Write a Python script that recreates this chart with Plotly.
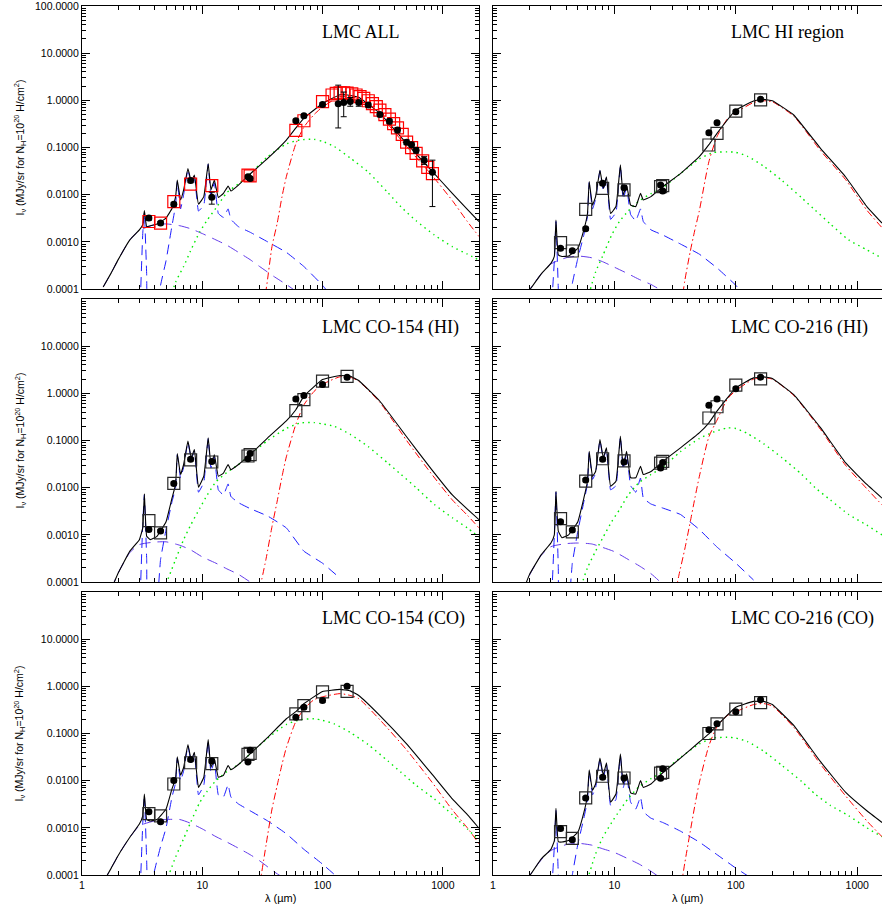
import plotly.graph_objects as go
from plotly.subplots import make_subplots

# ---------------- wavelength grids (micron) ----------------
lam_tot = [1.5, 1.75, 2.0, 2.5, 3.0, 3.2, 3.3, 3.45, 3.7, 4.2, 5.0, 5.6, 6.0, 6.2, 6.6, 7.0, 7.6, 8.1, 8.6,
           9.3, 10.3, 11.2, 11.8, 12.6, 13.6, 15.0, 16.4, 17.3, 20, 25, 35, 50, 60, 70, 100, 140, 170, 200,
           300, 500, 800, 1200, 1600, 2000]
lam_red = [30, 34, 38, 42, 46, 50, 60, 70, 85, 100, 140, 170, 200, 300, 500, 800, 1200, 1600, 2000]
lam_grn = [5, 6, 7, 8, 9.5, 11, 13, 16, 20, 25, 35, 50, 65, 85, 100, 125, 170, 240, 350, 450, 600, 850,
           1200, 1600, 2000]
lam_star = [1.5, 1.75, 2.0, 2.5, 3.0, 4.0, 5.0, 6.5, 8, 10, 13, 16, 20, 25, 30, 40, 50, 60]
lam_pah = [3.05, 3.2, 3.3, 3.45, 3.55, 4.0, 4.5, 5.0, 5.6, 6.0, 6.2, 6.6, 7.0, 7.6, 8.1, 8.6, 9.3, 10.3,
           11.2, 11.8, 12.6, 13.6, 15.0, 16.4, 17.3, 20, 25, 35, 50, 70, 100, 140]
lam_obs = [3.6, 4.5, 5.8, 8.0, 12, 24, 25, 60, 70, 100, 160]

# ---------------- LMC ALL ----------------
tot_all = [1.1e-4, 2.2e-4, 4.2e-4, 1.1e-3, 1.8e-3, 2.3e-3, 4.6e-3, 2.1e-3, 2.2e-3, 2.4e-3, 3.2e-3, 5.1e-3,
           9e-3, 0.0205, 7.7e-3, 0.0126, 0.036, 0.019, 0.026, 6.3e-3, 9.1e-3, 0.046, 0.0126, 0.0205, 8.7e-3,
           0.0107, 0.0152, 0.012, 0.016, 0.0275, 0.059, 0.144, 0.26, 0.42, 0.86, 1.32, 1.27, 1.16, 0.53,
           0.122, 0.033, 0.0107, 4.9e-3, 2.7e-3]
red_all = [2e-5, 1e-4, 8e-4, 2.5e-3, 9e-3, 0.024, 0.12, 0.27, 0.5, 0.72, 1.2, 1.2, 1.07, 0.48, 0.105,
           0.027, 7.5e-3, 2.7e-3, 1.3e-3]
grn_all = [3e-5, 1.4e-4, 3e-4, 6.5e-4, 1.6e-3, 2.9e-3, 5.2e-3, 0.011, 0.017, 0.0275, 0.064, 0.119, 0.145,
           0.149, 0.135, 0.105, 0.06, 0.03, 0.011, 5.5e-3, 2.8e-3, 1.4e-3, 7.9e-4, 5.5e-4, 4.1e-4]
star_all = [1.1e-4, 2.2e-4, 4.2e-4, 1.1e-3, 1.75e-3, 2.3e-3, 2.4e-3, 2.2e-3, 1.9e-3, 1.5e-3, 1.1e-3,
            8.5e-4, 6e-4, 4.2e-4, 3e-4, 1.8e-4, 1.25e-4, 9e-5]
pah_all = [5e-5, 1.5e-3, 4.2e-3, 2e-4, 1e-5, 1e-5, 1.2e-4, 4e-4, 2.2e-3, 6e-3, 0.019, 5e-3, 0.010, 0.034,
           0.017, 0.024, 4.5e-3, 6e-3, 0.044, 9.5e-3, 0.018, 4e-3, 3.3e-3, 5e-3, 3e-3, 2.1e-3, 1.6e-3,
           1e-3, 6e-4, 3e-4, 1.2e-4, 4e-5]
lam_obs_all = [3.6, 4.5, 5.8, 8.0, 12, 24, 25, 60, 70, 100, 135, 150, 170, 200, 240, 300, 360, 420, 500,
               550, 600, 700, 820]
obs_all = [3.2e-3, 2.5e-3, 6.3e-3, 0.020, 8.8e-3, 0.024, 0.022, 0.37, 0.47, 0.82, 0.85, 0.9, 0.95, 0.9,
           0.8, 0.5, 0.36, 0.235, 0.13, 0.114, 0.088, 0.054, 0.030]
err_up_all = [3e-4, 2e-4, 6e-4, 2e-3, 2.5e-3, 2e-3, 2e-3, 0.03, 0.04, 0.07, 1.25, 0.6, 0.2, 0.1, 0.08,
              0.05, 0.04, 0.03, 0.015, 0.015, 0.012, 0.01, 0.024]
err_dn_all = [3e-4, 2e-4, 6e-4, 2e-3, 2.5e-3, 2e-3, 2e-3, 0.03, 0.04, 0.07, 0.59, 0.45, 0.2, 0.15, 0.08,
              0.05, 0.04, 0.03, 0.015, 0.015, 0.012, 0.01, 0.0244]
lam_sq_all = [3.6, 4.5, 5.8, 8.0, 12, 24, 25, 60, 70, 100, 120, 130, 140, 150, 160, 175, 190, 205, 220,
              240, 260, 280, 300, 330, 360, 390, 420, 460, 500, 550, 600, 680, 750, 820]
sq_all = [2.7e-3, 2.5e-3, 7.1e-3, 0.0168, 0.0156, 0.026, 0.025, 0.23, 0.37, 0.94, 1.3, 1.4, 1.45, 1.45,
          1.42, 1.38, 1.3, 1.2, 1.1, 0.98, 0.85, 0.74, 0.62, 0.5, 0.4, 0.32, 0.26, 0.19, 0.13, 0.1, 0.075,
          0.052, 0.038, 0.028]

# ---------------- LMC HI region ----------------
tot_hi = [None, None, 9.5e-5, 2.1e-4, 3.5e-4, 4.9e-4, 2.9e-3, 5.3e-4, 4.9e-4, 5e-4, 7.3e-4, 1.8e-3, 4e-3,
          0.019, 6e-3, 9.1e-3, 0.033, 0.0135, 0.024, 4e-3, 5.6e-3, 0.043, 9.8e-3, 0.016, 6e-3, 5.6e-3,
          0.0107, 7.7e-3, 9.1e-3, 0.0148, 0.028, 0.064, 0.115, 0.2, 0.62, 0.97, 1.05, 0.98, 0.49, 0.095,
          0.024, 5.6e-3, 2.5e-3, None]
red_hi = [None, 2e-5, 1.5e-4, 6e-4, 1.8e-3, 4.5e-3, 0.05, 0.17, 0.4, 0.55, 0.9, 0.98, 0.93, 0.46, 0.085,
          0.021, 4.7e-3, 2.0e-3, None]
grn_hi = [None, 6e-5, 2.3e-4, 5e-4, 1.4e-3, 2.7e-3, 4.5e-3, 7.4e-3, 0.0105, 0.014, 0.028, 0.057, 0.078,
          0.081, 0.079, 0.065, 0.04, 0.02, 8.5e-3, 4.7e-3, 2.4e-3, 1.1e-3, 6.8e-4, 4.5e-4, None]
star_hi = [None, 3e-5, 9.5e-5, 2.1e-4, 3.4e-4, 4.6e-4, 5e-4, 4.6e-4, 3.8e-4, 2.9e-4, 2.1e-4, 1.6e-4,
           1.25e-4, 9e-5, 7e-5, None, None, None]
pah_hi = [5e-5, 4e-4, 2.7e-3, 1e-4, 1e-5, 1e-5, 1.3e-4, 4.5e-4, 1.4e-3, 3.5e-3, 0.018, 5e-3, 8e-3, 0.032,
          0.012, 0.023, 3e-3, 4.2e-3, 0.041, 8e-3, 0.014, 3.8e-3, 2.8e-3, 5e-3, 2.7e-3, 1.8e-3, 1.4e-3,
          9e-4, 5.5e-4, 2.8e-4, 1.2e-4, 4e-5]
obs_hi = [7.3e-4, 6.5e-4, 1.9e-3, 0.0174, 0.0141, 0.016, 0.012, 0.206, 0.336, 0.575, 1.05]
sq_hi = [9.6e-4, 6.4e-4, 4.9e-3, 0.0136, 0.0126, 0.0148, 0.0155, 0.113, 0.2, 0.59, 1.02]

# ---------------- LMC CO-154 (HI) ----------------
tot_154h = [None, 7e-5, 1.55e-4, 4.5e-4, 7.9e-4, 1.4e-3, 7.4e-3, 9.3e-4, 7.9e-4, 9.3e-4, 1.9e-3, 6e-3,
            0.0117, 0.053, 0.019, 0.031, 0.097, 0.043, 0.064, 0.0102, 0.0175, 0.114, 0.031, 0.05, 0.0175,
            0.0204, 0.031, 0.024, 0.031, 0.05, 0.114, 0.26, 0.45, 0.87, 1.96, 2.39, 2.3, 1.87, 0.68, 0.12,
            0.025, 7e-3, 3.5e-3, 2.1e-3]
red_154h = [7e-5, 3.2e-4, 1.5e-3, 5.2e-3, 0.017, 0.045, 0.22, 0.57, 1.1, 1.55, 2.25, 2.2, 1.8, 0.64, 0.10,
            0.02, 5.5e-3, 2.6e-3, 1.4e-3]
grn_154h = [9e-5, 3e-4, 7.9e-4, 1.6e-3, 3.6e-3, 7e-3, 0.0133, 0.021, 0.031, 0.05, 0.1, 0.18, 0.235, 0.24,
            0.225, 0.2, 0.135, 0.074, 0.033, 0.019, 0.01, 4.4e-3, 2.3e-3, 1.4e-3, 9e-4]
star_154h = [None, 7e-5, 1.55e-4, 4.2e-4, 6.2e-4, 7e-4, 7.1e-4, 6e-4, 4.8e-4, 3.4e-4, 2.5e-4, 1.9e-4,
             1.45e-4, 1e-4, 7.5e-5, None, None, None]
pah_154h = [5e-5, 1.8e-3, 7e-3, 3e-4, 1e-5, 1e-5, 3e-4, 1.3e-3, 5e-3, 0.01, 0.05, 0.016, 0.027, 0.093,
            0.04, 0.06, 8e-3, 0.013, 0.11, 0.026, 0.045, 9e-3, 7e-3, 0.012, 6.5e-3, 4.8e-3, 3.6e-3,
            2.5e-3, 1.4e-3, 4.5e-4, 2.5e-4, 1.2e-4]
obs_154h = [1.3e-3, 1.2e-3, 0.0123, 0.04, 0.036, 0.041, 0.053, 0.76, 0.9, 1.54, 2.2]
sq_154h = [2e-3, 1.1e-3, 0.0123, 0.039, 0.035, 0.047, 0.05, 0.43, 0.74, 1.81, 2.3]

# ---------------- LMC CO-216 (HI) ----------------
tot_216h = [None, 6e-5, 1.45e-4, 3.8e-4, 6.7e-4, 1e-3, 8.4e-3, 1.2e-3, 8.7e-4, 1e-3, 1.9e-3, 6e-3, 0.0137,
            0.059, 0.0173, 0.022, 0.105, 0.043, 0.07, 0.0107, 0.0137, 0.124, 0.0285, 0.059, 0.0162,
            0.0162, 0.0285, 0.019, 0.022, 0.036, 0.07, 0.145, 0.237, 0.42, 1.31, 2.13, 2.24, 2.06, 0.94,
            0.185, 0.034, 0.0117, 6e-3, None]
red_216h = [3e-5, 1.4e-4, 5e-4, 1.8e-3, 6e-3, 0.017, 0.12, 0.27, 0.75, 1.15, 2.0, 2.15, 2.0, 0.9, 0.17,
            0.03, 9.5e-3, 4.3e-3, None]
grn_216h = [5e-5, 2e-4, 4.5e-4, 8.5e-4, 1.9e-3, 3.4e-3, 7e-3, 0.0128, 0.019, 0.027, 0.058, 0.11, 0.15,
            0.185, 0.18, 0.14, 0.085, 0.043, 0.019, 0.01, 5.5e-3, 2.7e-3, 1.6e-3, 1e-3, None]
star_216h = [None, 6e-5, 1.4e-4, 3.7e-4, 5.6e-4, 6.5e-4, 6.7e-4, 6.4e-4, 5.4e-4, 4.4e-4, 3e-4, 2.2e-4,
             1.5e-4, 9e-5, 6e-5, None, None, None]
pah_216h = [5e-5, 1e-3, 8e-3, 2e-4, 1e-5, 1e-5, 2.5e-4, 1.2e-3, 5e-3, 0.012, 0.056, 0.015, 0.02, 0.1,
            0.04, 0.066, 9e-3, 0.011, 0.12, 0.024, 0.055, 0.011, 8e-3, 0.016, 6e-3, 4.5e-3, 3.7e-3,
            2.7e-3, 1.3e-3, 5.5e-4, 2.5e-4, 1.1e-4]
obs_216h = [1.9e-3, 1.26e-3, 0.0145, 0.04, 0.035, 0.026, 0.034, 0.56, 0.76, 1.26, 2.2]
sq_216h = [2.2e-3, 1.15e-3, 0.0137, 0.041, 0.037, 0.033, 0.036, 0.30, 0.52, 1.49, 2.03]

# ---------------- LMC CO-154 (CO) ----------------
tot_154c = [7e-5, 1.4e-4, 2.6e-4, 6.3e-4, 1.2e-3, 1.8e-3, 5.2e-3, 1.5e-3, 1.4e-3, 1.5e-3, 2.5e-3, 6.7e-3,
            0.011, 0.032, 0.013, 0.019, 0.058, 0.027, 0.04, 7.2e-3, 0.0118, 0.074, 0.019, 0.029, 0.0118,
            0.013, 0.021, 0.017, 0.022, 0.037, 0.083, 0.205, 0.29, 0.43, 0.78, 0.86, 0.8, 0.64, 0.24, 0.06,
            0.0144, 4.1e-3, 1.9e-3, 9.8e-4]
red_154c = [6e-5, 4.5e-4, 2.5e-3, 8e-3, 0.022, 0.05, 0.18, 0.33, 0.52, 0.6, 0.7, 0.64, 0.55, 0.195, 0.045,
            9.8e-3, 2.4e-3, 1e-3, 4.6e-4]
grn_154c = [7e-5, 2.4e-4, 5.9e-4, 1.3e-3, 3.4e-3, 6e-3, 0.01, 0.0155, 0.022, 0.037, 0.08, 0.155, 0.195,
            0.205, 0.19, 0.16, 0.105, 0.058, 0.026, 0.015, 8e-3, 4.1e-3, 1.9e-3, 9.5e-4, 5.4e-4]
star_154c = [7e-5, 1.4e-4, 2.6e-4, 6.3e-4, 1.1e-3, 1.4e-3, 1.5e-3, 1.5e-3, 1.25e-3, 9.5e-4, 6.5e-4, 5e-4,
             3.7e-4, 2.7e-4, 2e-4, 1.15e-4, 8e-5, None]
pah_154c = [5e-5, 1.2e-3, 5e-3, 2e-4, 1e-5, 1.2e-4, 4e-4, 1e-3, 4.5e-3, 9e-3, 0.03, 0.01, 0.016, 0.055,
            0.024, 0.038, 5e-3, 8e-3, 0.07, 0.015, 0.026, 5e-3, 4.5e-3, 8.2e-3, 4.5e-3, 3.2e-3, 2.3e-3,
            1.4e-3, 7.5e-4, 3.5e-4, 1.7e-4, 8e-5]
obs_154c = [2.2e-3, 1.35e-3, 0.0101, 0.028, 0.026, 0.025, 0.044, 0.22, 0.36, 0.5, 1.0]
sq_154c = [2e-3, 1.8e-3, 8.5e-3, 0.024, 0.023, 0.036, 0.038, 0.26, 0.39, 0.76, 0.78]

# ---------------- LMC CO-216 (CO) ----------------
tot_216c = [None, None, 9.5e-5, 2.2e-4, 3.5e-4, 5.3e-4, 2.6e-3, 5.1e-4, 5e-4, 5.4e-4, 8.1e-4, 2.1e-3,
            4.9e-3, 0.017, 6.2e-3, 8.5e-3, 0.030, 0.013, 0.024, 3.5e-3, 5.2e-3, 0.037, 8.5e-3, 0.014,
            5.5e-3, 5.2e-3, 0.01, 7.2e-3, 8.5e-3, 0.0147, 0.030, 0.066, 0.098, 0.148, 0.36, 0.48, 0.48,
            0.41, 0.148, 0.025, 5.7e-3, 2.3e-3, 1.3e-3, None]
red_216c = [None, 3e-5, 1.8e-4, 8e-4, 3e-3, 9e-3, 0.055, 0.14, 0.24, 0.29, 0.41, 0.43, 0.38, 0.135, 0.022,
            4.8e-3, 1.4e-3, 6.5e-4, None]
grn_216c = [None, 8e-5, 2.8e-4, 6.2e-4, 1.3e-3, 2.3e-3, 4.2e-3, 7.5e-3, 0.011, 0.0155, 0.031, 0.06, 0.08,
            0.083, 0.08, 0.067, 0.042, 0.021, 9.5e-3, 5.2e-3, 3e-3, 1.8e-3, 1e-3, 6.5e-4, None]
star_216c = [None, 3e-5, 9.5e-5, 2.1e-4, 3.3e-4, 4.4e-4, 4.7e-4, 4.3e-4, 3.6e-4, 3e-4, 2.2e-4, 1.7e-4,
             1.2e-4, 8e-5, None, None, None, None]
pah_216c = [5e-5, 4e-4, 2.4e-3, 1e-4, 1e-5, 1e-5, 1e-4, 4.5e-4, 1.6e-3, 3.8e-3, 0.016, 5e-3, 7e-3, 0.029,
            0.011, 0.023, 3e-3, 4e-3, 0.035, 7e-3, 0.013, 3.5e-3, 2.5e-3, 4.5e-3, 2.2e-3, 1.6e-3, 1.3e-3,
            8.5e-4, 5e-4, 2.7e-4, 1.4e-4, 8e-5]
obs_216c = [9.7e-4, 5.6e-4, 4.3e-3, 0.0118, 0.0114, 0.0113, 0.0178, 0.12, 0.16, 0.29, 0.52]
sq_216c = [8.3e-4, 6e-4, 4.3e-3, 0.0124, 0.0114, 0.0145, 0.015, 0.1, 0.16, 0.33, 0.45]

titles = ["LMC ALL", "LMC HI region", "LMC CO-154 (HI)", "LMC CO-216 (HI)", "LMC CO-154 (CO)",
          "LMC CO-216 (CO)"]
ytick_vals = [1e-4, 1e-3, 1e-2, 1e-1, 1, 10, 100]
ytick_text = ["0.0001", "0.0010", "0.0100", "0.1000", "1.0000", "10.0000", "100.0000"]
xtick_vals = [1, 10, 100, 1000]
xtick_text = ["1", "10", "100", "1000"]

panels = [
    (1, 1, tot_all, red_all, grn_all, star_all, pah_all, lam_obs_all, obs_all, lam_sq_all, sq_all),
    (1, 2, tot_hi, red_hi, grn_hi, star_hi, pah_hi, lam_obs, obs_hi, lam_obs, sq_hi),
    (2, 1, tot_154h, red_154h, grn_154h, star_154h, pah_154h, lam_obs, obs_154h, lam_obs, sq_154h),
    (2, 2, tot_216h, red_216h, grn_216h, star_216h, pah_216h, lam_obs, obs_216h, lam_obs, sq_216h),
    (3, 1, tot_154c, red_154c, grn_154c, star_154c, pah_154c, lam_obs, obs_154c, lam_obs, sq_154c),
    (3, 2, tot_216c, red_216c, grn_216c, star_216c, pah_216c, lam_obs, obs_216c, lam_obs, sq_216c),
]

BLUE = "rgb(30,30,255)"
VIOLET = "rgb(100,60,235)"
GREEN = "rgb(0,235,0)"
RED = "rgb(255,0,0)"

fig = make_subplots(rows=3, cols=2)

for i, (r, c, tot, red, grn, star, pah, lo, obs, ls, sq) in enumerate(panels):
    sm = dict(shape="spline", smoothing=0.6)
    fig.add_trace(go.Scatter(x=lam_star, y=star, mode="lines",
                             line=dict(color=VIOLET, width=1, dash="11px,7px", **sm)), row=r, col=c)
    fig.add_trace(go.Scatter(x=lam_pah, y=pah, mode="lines",
                             line=dict(color=BLUE, width=1, dash="10px,6px", shape="spline", smoothing=0.3)),
                  row=r, col=c)
    fig.add_trace(go.Scatter(x=lam_grn, y=grn, mode="lines",
                             line=dict(color=GREEN, width=1.4, dash="1.5px,4px", **sm)), row=r, col=c)
    fig.add_trace(go.Scatter(x=lam_red, y=red, mode="lines",
                             line=dict(color=RED, width=1, dash="7px,3px,1.5px,3px", **sm)), row=r, col=c)
    fig.add_trace(go.Scatter(x=lam_tot, y=tot, mode="lines",
                             line=dict(color="black", width=1.1, shape="spline", smoothing=0.3)), row=r, col=c)
    sq_col = RED if i == 0 else "rgb(40,40,40)"
    fig.add_trace(go.Scatter(x=ls, y=sq, mode="markers",
                             marker=dict(symbol="square-open", size=12, color=sq_col,
                                         line=dict(width=1.2, color=sq_col))), row=r, col=c)
    if i == 0:
        err = dict(type="data", array=err_up_all, arrayminus=err_dn_all, color="black",
                   thickness=1, width=3)
    else:
        err = dict(type="percent", value=8, color="black", thickness=1, width=3)
    fig.add_trace(go.Scatter(x=lo, y=obs, mode="markers", error_y=err,
                             marker=dict(symbol="circle", size=7, color="black")), row=r, col=c)

xdom = [[0.0, 0.49625], [0.51375, 1.0]]
ydom = [[0.6743, 1.0], [0.3372, 0.6628], [0.0, 0.3257]]
xrng = [[0, 3.301], [0, 3.204]]

minor_x = dict(ticks="inside", ticklen=4, tickcolor="black", dtick="D1", showgrid=False)
minor_y = dict(ticks="inside", ticklen=4, tickcolor="black", dtick="D1", showgrid=False)
tickfont = dict(family="Liberation Sans, Arial, sans-serif", size=10.5, color="black")

for r in (1, 2, 3):
    for c in (1, 2):
        fig.update_xaxes(type="log", range=xrng[c - 1], domain=xdom[c - 1], automargin=False,
                         tickmode="array", tickvals=xtick_vals, ticktext=xtick_text,
                         showticklabels=(r == 3), ticks="inside", ticklen=8, tickcolor="black",
                         minor=minor_x, showline=True, linecolor="black", linewidth=1.2,
                         mirror="ticks", showgrid=False, zeroline=False, tickfont=tickfont,
                         ticklabeloverflow="allow", row=r, col=c)
        ytext = list(ytick_text)
        if r > 1:
            ytext[-1] = ""
        fig.update_yaxes(type="log", range=[-4, 2.0005], domain=ydom[r - 1], automargin=False,
                         tickmode="array", tickvals=ytick_vals, ticktext=ytext,
                         showticklabels=(c == 1), ticks="inside", ticklen=8, tickcolor="black",
                         minor=minor_y, showline=True, linecolor="black", linewidth=1.2,
                         mirror=("ticks" if c == 1 else False), showgrid=False, zeroline=False,
                         tickfont=tickfont, ticklabeloverflow="allow", row=r, col=c)

# panel titles
title_x = [0.2975, 0.80875]
title_y = [0.970, 0.6295, 0.2957]
for i, t in enumerate(titles):
    r, c = i // 2, i % 2
    fig.add_annotation(text=t, xref="paper", yref="paper", x=title_x[c], y=title_y[r],
                       xanchor="left", yanchor="middle", showarrow=False,
                       font=dict(family="Liberation Serif, Times New Roman, serif", size=18, color="black"))

# y axis titles
ylab = "I<sub>ν</sub> (MJy/sr for N<sub>H</sub>=10<sup>20</sup> H/cm<sup>2</sup>)"
for r in range(3):
    yc = (ydom[r][0] + ydom[r][1]) / 2
    fig.add_annotation(text=ylab, xref="paper", yref="paper", x=-0.0775, y=yc, textangle=-90,
                       xanchor="center", yanchor="middle", showarrow=False,
                       font=dict(family="Liberation Sans, Arial, sans-serif", size=10.5, color="black"))

# x axis titles
for c in range(2):
    xc = (xdom[c][0] + xdom[c][1]) / 2
    fig.add_annotation(text="λ (µm)", xref="paper", yref="paper", x=xc, y=-0.027,
                       xanchor="center", yanchor="middle", showarrow=False,
                       font=dict(family="Liberation Sans, Arial, sans-serif", size=11, color="black"))

fig.update_layout(width=882, height=906, margin=dict(l=82, r=0, t=6, b=31),
                  paper_bgcolor="white", plot_bgcolor="white", showlegend=False)

# the page body has a default 8px margin; drop it so the figure sits at the window origin
fig.write_html("out.html", config={"displayModeBar": False},
               post_script="document.body.style.margin='0px';")
